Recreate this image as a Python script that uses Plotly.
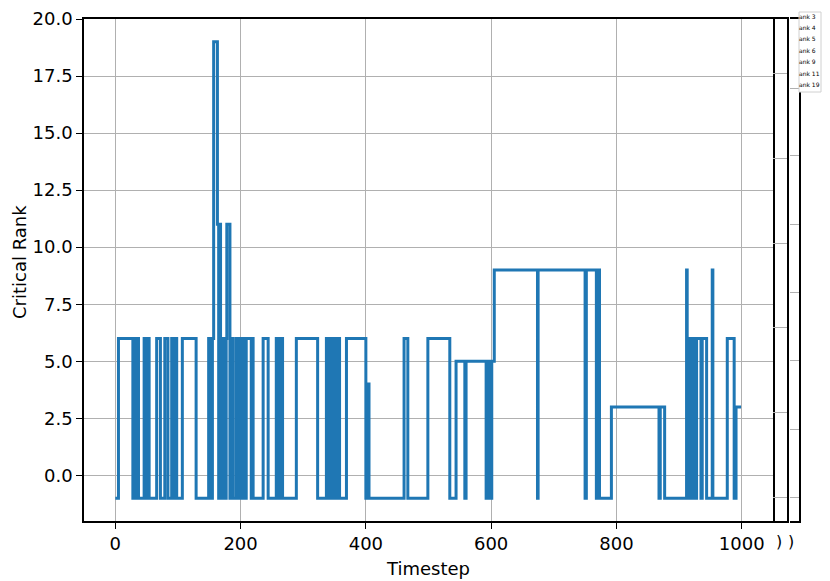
import plotly.graph_objects as go

# timestep where the critical rank changes, and the rank held from there on
step_start = [0, 5, 28, 32, 34, 35, 37, 46, 49, 51, 54, 66, 72, 79, 84, 90, 93, 95, 98,
              107, 129, 149, 152, 155, 157, 163, 165, 166, 168, 169, 171, 172, 176,
              177, 178, 183, 186, 188, 193, 196, 198, 200, 204, 208, 209, 217, 219, 220,
              236, 244, 257, 259, 261, 264, 265, 267, 289, 323, 337, 341, 343, 345, 348,
              352, 354, 358, 369, 400, 404, 405, 461, 467, 499, 534, 544, 558, 560, 592,
              593, 597, 598, 600, 601, 605, 674, 675, 750, 752, 768, 770, 773, 792, 868,
              870, 877, 912, 913, 916, 918, 919, 921, 922, 926, 928, 935, 937, 944, 953,
              954, 977, 988, 991]
rank = [-1, 6, -1, 6, -1, 6, -1, 6, -1, 6, -1, 6, -1, 6, -1, 6, -1, 6, -1,
        6, -1, 6, -1, 6, 19, 11, -1, 11, -1, 6, -1, 6, -1,
        6, 11, -1, 6, -1, 6, -1, 6, -1, 6, -1, 6, -1, 6, -1,
        6, -1, 6, -1, 6, -1, 6, -1, 6, -1, 6, -1, 6, -1, 6,
        -1, 6, -1, 6, -1, 4, -1, 6, -1, 6, -1, 5, -1, 5, -1,
        5, -1, 5, -1, 5, 9, -1, 9, -1, 9, -1, 9, -1, 3, -1,
        3, -1, 9, -1, 6, -1, 6, -1, 6, -1, 6, -1, 6, -1, 9,
        -1, 6, -1, 3]
last_timestep = 999

legend_labels = ["ank 3", "ank 4", "ank 5", "ank 6", "ank 9", "ank 11", "ank 19"]

x_ticks = [0, 200, 400, 600, 800, 1000]
y_ticks = [0, 2.5, 5, 7.5, 10, 12.5, 15, 17.5, 20]

# the page body adds an 8px margin, so the figure is laid out smaller
OFF = 8
W, H = 830 - 2 * OFF, 581 - OFF
L, R, T, B = 84 - OFF, 23, 11, 60
pw, ph = W - L - R, H - T - B


def px_x(p):
    # page x -> paper fraction
    return (p - OFF - L) / pw


def px_y(p):
    # page y -> paper fraction
    return (H - B - (p - OFF)) / ph


font = "DejaVu Sans, Verdana, sans-serif"
grid = "#b0b0b0"

fig = go.Figure()

fig.add_trace(go.Scatter(
    x=step_start + [last_timestep],
    y=rank + [rank[-1]],
    mode="lines",
    line=dict(color="#1f77b4", width=3, shape="hv"),
    showlegend=False,
))

# empty traces so the narrow side panels are drawn
for ax in ["2", "3"]:
    fig.add_trace(go.Scatter(x=[None], y=[None], xaxis="x" + ax, yaxis="y" + ax,
                             showlegend=False, hoverinfo="skip"))

main_right = px_x(773)

fig.update_layout(
    width=W, height=H,
    margin=dict(l=L, r=R, t=T, b=B, autoexpand=False),
    paper_bgcolor="white", plot_bgcolor="white",
    font=dict(family=font, size=18, color="black"),
    xaxis=dict(
        domain=[0, main_right], range=[-50, 1050], automargin=False,
        tickvals=x_ticks, ticks="outside", ticklen=6, tickwidth=1.3, tickcolor="black",
        showline=True, mirror=True, linecolor="black", linewidth=1.5,
        showgrid=True, gridcolor=grid, gridwidth=1.2, zeroline=False,
        ticklabeloverflow="allow",
    ),
    yaxis=dict(
        range=[-2, 20.0001], tickvals=y_ticks, tickformat=".1f", automargin=False,
        ticks="outside", ticklen=6, tickwidth=1.3, tickcolor="black",
        showline=True, mirror=True, linecolor="black", linewidth=1.5,
        showgrid=True, gridcolor=grid, gridwidth=1.2, zeroline=False,
        ticklabeloverflow="allow",
    ),
    xaxis2=dict(
        domain=[main_right, px_x(787)], anchor="y2", range=[0, 1], automargin=False,
        showline=True, mirror=True, linecolor="black", linewidth=1.5,
        showgrid=False, showticklabels=False, zeroline=False,
    ),
    yaxis2=dict(
        anchor="x2", side="right", range=[0, 1], automargin=False,
        tickvals=[0.047, 0.216, 0.385, 0.553, 0.722, 0.891],
        showticklabels=False, ticks="",
        showline=True, linecolor="black", linewidth=1.5,
        showgrid=True, gridcolor=grid, gridwidth=1.2, zeroline=False,
    ),
    xaxis3=dict(
        domain=[px_x(790), 1], anchor="y3", range=[0, 1], automargin=False,
        showline=True, mirror=True, linecolor="black", linewidth=1.5,
        showgrid=False, showticklabels=False, zeroline=False,
    ),
    yaxis3=dict(
        anchor="x3", side="right", range=[0, 1], automargin=False,
        tickvals=[0.047, 0.183, 0.319, 0.455, 0.591, 0.728, 0.862],
        showticklabels=False, ticks="",
        showline=True, linecolor="black", linewidth=1.5,
        showgrid=True, gridcolor=grid, gridwidth=1.2, zeroline=False,
    ),
)

# axis titles
fig.add_annotation(text="Timestep", xref="paper", yref="paper",
                   x=px_x(428), y=px_y(568), xanchor="center", yanchor="middle",
                   showarrow=False, font=dict(size=18))
fig.add_annotation(text="Critical Rank", xref="paper", yref="paper",
                   x=px_x(19), y=px_y(262), xanchor="center", yanchor="middle",
                   textangle=-90, showarrow=False, font=dict(size=18))

# clipped legend on the far right
fig.add_shape(type="rect", xref="paper", yref="paper",
              x0=px_x(799), x1=px_x(821), y0=px_y(92), y1=px_y(12),
              line=dict(color="#d0d0d0", width=1), fillcolor="white", layer="above")
for i, lab in enumerate(legend_labels):
    fig.add_annotation(text=lab, xref="paper", yref="paper",
                       x=px_x(798), y=px_y(16 + i * 11.4), xanchor="left", yanchor="middle",
                       showarrow=False, borderpad=0, font=dict(size=6, color="black"))

# clipped tick labels of the side panels
for xp in [779, 791]:
    fig.add_annotation(text=")", xref="paper", yref="paper",
                       x=px_x(xp), y=px_y(541), xanchor="center", yanchor="middle",
                       showarrow=False, font=dict(size=16, color="black"))

fig.write_html("out.html")
